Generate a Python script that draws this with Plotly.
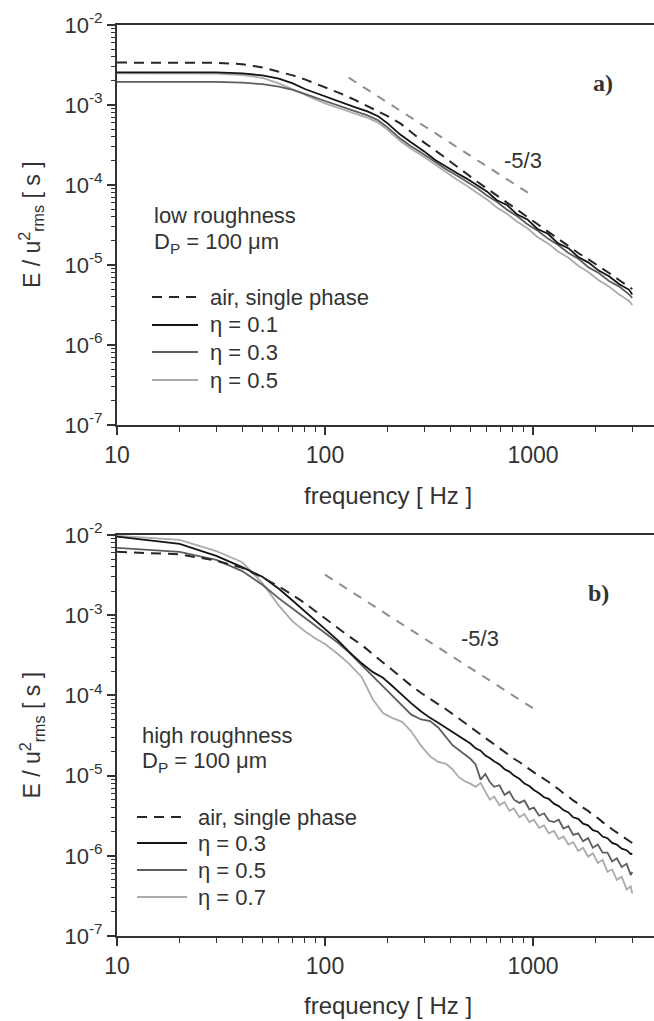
import plotly.graph_objects as go

# ---------------- data ----------------
freq_a = [10, 20, 30, 40, 50, 60, 70, 80, 90, 100, 120, 140, 160, 180, 200, 230, 260, 300, 340, 380,
          430, 480, 540, 600, 670, 750, 840, 940, 1050, 1180, 1320, 1480, 1650, 1850, 2070, 2320, 2600, 2900, 3000]
# log10 of E/u_rms^2 [s]
air_a_log = [-2.47, -2.47, -2.472, -2.49, -2.53, -2.585, -2.63, -2.68, -2.73, -2.78,
             -2.86, -2.94, -3.01, -3.08, -3.14, -3.23, -3.34, -3.47, -3.57, -3.66,
             -3.76, -3.86, -3.96, -4.04, -4.13, -4.22, -4.31, -4.40, -4.49, -4.58,
             -4.67, -4.76, -4.85, -4.93, -5.02, -5.10, -5.19, -5.27, -5.30]
eta01_a_log = [-2.592, -2.592, -2.593, -2.605, -2.63, -2.67, -2.73, -2.80, -2.85, -2.89,
               -2.97, -3.03, -3.08, -3.14, -3.23, -3.37, -3.47, -3.58, -3.69, -3.77,
               -3.85, -3.92, -4.01, -4.08, -4.19, -4.25, -4.37, -4.43, -4.55, -4.61,
               -4.73, -4.79, -4.90, -4.97, -5.07, -5.14, -5.24, -5.31, -5.37]
eta03_a_log = [-2.71, -2.71, -2.712, -2.72, -2.74, -2.77, -2.81, -2.86, -2.91, -2.95,
               -3.02, -3.08, -3.13, -3.19, -3.28, -3.42, -3.52, -3.62, -3.72, -3.80,
               -3.88, -3.96, -4.04, -4.13, -4.21, -4.31, -4.39, -4.49, -4.57, -4.67,
               -4.75, -4.85, -4.92, -5.03, -5.10, -5.20, -5.27, -5.37, -5.41]
eta05_a_log = [-2.605, -2.605, -2.607, -2.625, -2.66, -2.73, -2.80, -2.87, -2.93, -2.98,
               -3.05, -3.11, -3.16, -3.22, -3.31, -3.45, -3.55, -3.65, -3.75, -3.84,
               -3.93, -4.01, -4.10, -4.18, -4.28, -4.36, -4.46, -4.54, -4.65, -4.73,
               -4.83, -4.91, -5.01, -5.09, -5.19, -5.27, -5.37, -5.45, -5.50]

freq_b = [10, 20, 30, 40, 50, 60, 70, 80, 90, 100,
          115, 130, 150, 170, 190, 210, 235, 260, 290, 320,
          350, 380, 410, 440, 470, 500, 530, 560, 590, 620,
          650, 690, 730, 770, 810, 860, 910, 960, 1010, 1070,
          1130, 1190, 1260, 1330, 1400, 1480, 1560, 1650, 1740, 1840,
          1940, 2050, 2160, 2280, 2400, 2530, 2670, 2820, 2950, 3000]
air_b_log = [-2.21, -2.24, -2.32, -2.41, -2.53, -2.64, -2.75, -2.85, -2.95, -3.04,
             -3.16, -3.26, -3.37, -3.49, -3.59, -3.68, -3.79, -3.88, -3.97, -4.04,
             -4.11, -4.17, -4.23, -4.29, -4.34, -4.40, -4.44, -4.49, -4.53, -4.57,
             -4.61, -4.66, -4.70, -4.75, -4.79, -4.83, -4.88, -4.92, -4.96, -5.00,
             -5.04, -5.08, -5.13, -5.17, -5.22, -5.26, -5.31, -5.35, -5.40, -5.44,
             -5.49, -5.53, -5.58, -5.62, -5.67, -5.71, -5.75, -5.80, -5.83, -5.84]
eta03_b_log = [-2.02, -2.11, -2.26, -2.40, -2.52, -2.67, -2.82, -2.95, -3.07, -3.17,
               -3.31, -3.45, -3.60, -3.71, -3.78, -3.88, -4.00, -4.10, -4.20, -4.28,
               -4.34, -4.40, -4.45, -4.50, -4.55, -4.60, -4.66, -4.69, -4.75, -4.78,
               -4.82, -4.86, -4.92, -4.95, -5.00, -5.04, -5.10, -5.13, -5.18, -5.22,
               -5.27, -5.29, -5.35, -5.38, -5.43, -5.46, -5.52, -5.54, -5.60, -5.62,
               -5.68, -5.70, -5.76, -5.78, -5.84, -5.86, -5.91, -5.93, -5.98, -5.97]
eta05_b_log = [-2.16, -2.21, -2.31, -2.45, -2.62, -2.79, -2.92, -3.03, -3.13, -3.22,
               -3.34, -3.46, -3.62, -3.77, -3.89, -4.00, -4.13, -4.24, -4.30, -4.32,
               -4.40, -4.52, -4.62, -4.68, -4.74, -4.79, -4.86, -5.05, -4.98, -5.08,
               -5.14, -5.12, -5.24, -5.20, -5.30, -5.34, -5.31, -5.42, -5.40, -5.50,
               -5.47, -5.56, -5.58, -5.55, -5.66, -5.63, -5.74, -5.72, -5.82, -5.78,
               -5.90, -5.86, -5.96, -5.96, -6.07, -6.03, -6.14, -6.10, -6.24, -6.20]
eta07_b_log = [-2.01, -2.06, -2.20, -2.34, -2.60, -2.88, -3.08, -3.20, -3.29, -3.36,
               -3.48, -3.60, -3.77, -4.05, -4.22, -4.28, -4.33, -4.45, -4.63, -4.76,
               -4.83, -4.85, -4.92, -5.02, -5.07, -5.10, -5.14, -5.09, -5.20, -5.30,
               -5.26, -5.37, -5.33, -5.44, -5.41, -5.52, -5.48, -5.58, -5.55, -5.65,
               -5.62, -5.72, -5.69, -5.79, -5.76, -5.86, -5.83, -5.94, -5.90, -6.01,
               -5.97, -6.09, -6.05, -6.20, -6.17, -6.30, -6.26, -6.42, -6.38, -6.47]

# -5/3 reference slopes
ref_a_f = [130, 1000]
ref_a_E = [2.2e-3, 7.3e-5]
ref_b_f = [100, 1000]
ref_b_E = [3.2e-3, 6.9e-5]

labels_a = ["air, single phase", "η = 0.1", "η = 0.3", "η = 0.5"]
labels_b = ["air, single phase", "η = 0.3", "η = 0.5", "η = 0.7"]
y_tick_vals = [1e-7, 1e-6, 1e-5, 1e-4, 1e-3, 1e-2]
y_tick_text = ["10<sup>-7</sup>", "10<sup>-6</sup>", "10<sup>-5</sup>", "10<sup>-4</sup>",
               "10<sup>-3</sup>", "10<sup>-2</sup>"]
x_tick_vals = [10, 100, 1000]
x_tick_text = ["10", "100", "1000"]

# ---------------- layout helpers ----------------
W, H = 654, 1021
ML, MR, MT, MB = 117, 0, 25, 85
PW = W - ML - MR
PH = H - MT - MB


def px(X):
    return (X - ML) / PW


def py(Y):
    return (H - MB - Y) / PH


FONT = "Liberation Sans, Arial, sans-serif"
TXT = "#333333"
C_BLACK = "#141414"
C_DARK = "#5e5e5e"
C_LIGHT = "#ababab"
C_AIR = "#262626"
C_REF = "#8e8e8e"
AIR_DASH = "10px,7px"
REF_DASH = "9px,8px"

fig = go.Figure()


def E(vals):
    return [10 ** v for v in vals]


def add_panel(f, series, colors, dashes, widths, xa, ya):
    for vals, c, d, w in zip(series, colors, dashes, widths):
        fig.add_trace(go.Scatter(x=f, y=E(vals), mode="lines", xaxis=xa, yaxis=ya,
                                 line=dict(color=c, width=w, dash=d), showlegend=False,
                                 hoverinfo="skip"))


# panel a
add_panel(freq_a, [eta05_a_log, eta03_a_log, eta01_a_log, air_a_log],
          [C_LIGHT, C_DARK, C_BLACK, C_AIR], ["solid", "solid", "solid", AIR_DASH],
          [1.8, 1.8, 1.8, 2.0], "x", "y")
fig.add_trace(go.Scatter(x=ref_a_f, y=ref_a_E, mode="lines", xaxis="x", yaxis="y",
                         line=dict(color=C_REF, width=2, dash=REF_DASH), showlegend=False))
# panel b
add_panel(freq_b, [eta07_b_log, eta05_b_log, eta03_b_log, air_b_log],
          [C_LIGHT, C_DARK, C_BLACK, C_AIR], ["solid", "solid", "solid", AIR_DASH],
          [1.8, 1.8, 1.8, 2.0], "x2", "y2")
fig.add_trace(go.Scatter(x=ref_b_f, y=ref_b_E, mode="lines", xaxis="x2", yaxis="y2",
                         line=dict(color=C_REF, width=2, dash=REF_DASH), showlegend=False))

x_minor = [k * 10 ** e for e in (1, 2) for k in range(2, 10)] + [2000, 3000]
y_minor = [k * 10.0 ** e for e in range(-7, -2) for k in range(2, 10)]


def xax(anchor):
    return dict(type="log", range=[1, 1 + PW / 208.0], anchor=anchor,
                showline=True, linecolor="#333", linewidth=2, mirror=True,
                ticks="outside", ticklen=8, tickwidth=1.6, tickcolor="#333",
                tickmode="array", tickvals=x_tick_vals, ticktext=x_tick_text,
                tickfont=dict(family=FONT, size=23, color=TXT),
                minor=dict(tickmode="array", tickvals=x_minor, ticks="outside",
                           ticklen=5, tickwidth=1.4, tickcolor="#333", showgrid=False),
                showgrid=False, zeroline=False)


def yax(anchor, domain):
    return dict(type="log", range=[-7, -2], anchor=anchor, domain=domain,
                showline=True, linecolor="#333", linewidth=2,
                ticks="outside", ticklen=8, tickwidth=1.6, tickcolor="#333",
                tickmode="array", tickvals=y_tick_vals, ticktext=y_tick_text,
                tickfont=dict(family=FONT, size=22, color=TXT),
                minor=dict(tickmode="array", tickvals=y_minor, ticks="outside",
                           ticklen=4, tickwidth=1.2, tickcolor="#333", showgrid=False),
                showgrid=False, zeroline=False)


annotations = []
shapes = []


def text(X, Y, s, size=22, xanchor="left", family=FONT, angle=0):
    annotations.append(dict(x=px(X), y=py(Y), xref="paper", yref="paper", text=s,
                            showarrow=False, xanchor=xanchor, yanchor="middle",
                            textangle=angle,
                            font=dict(family=family, size=size, color=TXT)))


def panel_text(top, bottom, tag, tag_xy, slope_xy, info_x, info_y, leg_x0, leg_x1, leg_tx,
               leg_y, labels, info1):
    cy = (top + bottom) / 2
    text(31, cy, "E / u<sup>2</sup><sub>rms</sub> [ s ]", size=23, xanchor="center", angle=-90)
    text((ML + W) / 2 + 2, bottom + 70, "frequency [ Hz ]", size=24, xanchor="center")
    text(tag_xy[0], tag_xy[1], "<b>" + tag + "</b>", size=24, xanchor="center",
         family="Liberation Serif, Times New Roman, serif")
    text(slope_xy[0], slope_xy[1], "-5/3", size=22, xanchor="center")
    text(info_x, info_y[0], info1, size=22)
    text(info_x, info_y[1], "D<sub>P</sub> = 100 μm", size=22)
    cols = [C_AIR, C_BLACK, C_DARK, C_LIGHT]
    dsh = [AIR_DASH, "solid", "solid", "solid"]
    for lab, yy, c, d in zip(labels, leg_y, cols, dsh):
        shapes.append(dict(type="line", xref="paper", yref="paper",
                           x0=px(leg_x0), x1=px(leg_x1), y0=py(yy), y1=py(yy),
                           line=dict(color=c, width=2.2 if d == "solid" else 2, dash=d)))
        text(leg_tx, yy, lab, size=22)


panel_text(25, 425, "a)", (603, 83), (523, 160), 152, (215, 243), 152, 198, 208,
           [297, 325, 352, 380], labels_a, "low roughness")
panel_text(535, 936, "b)", (598, 593), (480, 638), 140, (735, 762), 137, 187, 196,
           [817, 843, 870, 897], labels_b, "high roughness")

fig.update_layout(
    width=W, height=H,
    margin=dict(l=ML, r=MR, t=MT, b=MB),
    paper_bgcolor="white", plot_bgcolor="white",
    xaxis=xax("y"), yaxis=yax("x", [py(425), 1.0]),
    xaxis2=xax("y2"), yaxis2=yax("x2", [0.0, py(535)]),
    annotations=annotations, shapes=shapes,
    showlegend=False,
)

fig.write_html("out.html")
